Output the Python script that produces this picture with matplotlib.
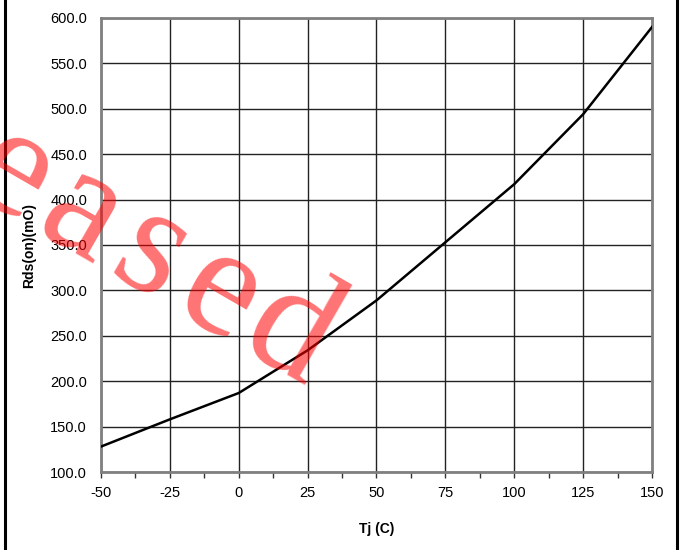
import matplotlib
matplotlib.use("Agg")
import math
import matplotlib.pyplot as plt
from matplotlib.ticker import MultipleLocator, FormatStrFormatter
from matplotlib.lines import Line2D

# Data
tj = [-50, -25, 0, 25, 50, 75, 100, 125, 150]
rds_on = [128, 158, 187, 234, 289, 353, 417, 494, 590]

x_label = "Tj (C)"
y_label = "Rds(on)(mO)"
watermark = "eased"

plt.rcParams['font.family'] = ['Liberation Sans', 'DejaVu Sans']
plt.rcParams['axes.unicode_minus'] = False

W, H = 681, 550
fig = plt.figure(figsize=(W/100, H/100), dpi=100)
ax = fig.add_axes([101/W, 1-472/H, (652-101)/W, (472-18)/H])

ax.plot(tj, rds_on, color='black', lw=1.8, zorder=4, solid_joinstyle='miter')

ax.set_xlim(-50, 150)
ax.set_ylim(100, 600)
ax.xaxis.set_major_locator(MultipleLocator(25))
ax.xaxis.set_minor_locator(MultipleLocator(12.5))
ax.yaxis.set_major_locator(MultipleLocator(50))
ax.yaxis.set_major_formatter(FormatStrFormatter('%.1f'))

ax.grid(True, which='major', color='#222222', lw=1.0, zorder=1)
ax.set_axisbelow(True)
for s in ax.spines.values():
    s.set_color('#808080')
    s.set_linewidth(2)

ax.tick_params(axis='x', which='both', direction='out', length=4, width=1,
               color='#333333', labelsize=10.5, pad=6)
ax.tick_params(axis='y', which='both', length=0, labelsize=10.5, pad=10)

ax.set_xlabel(x_label, fontsize=10, fontweight='bold', labelpad=16)
ax.set_ylabel(y_label, fontsize=10, fontweight='bold', labelpad=10)

# Watermark: letters laid along a tilted line (pixel layout, y from top)
ang = 30.0
step = 80.0
mid = (150.0, 257.0)   # centre of the middle letter
dx, dy = math.cos(math.radians(ang)), math.sin(math.radians(ang))
fs = 114
xh = 0.23 * fs * 100 / 72  # half x-height in px
ux, uy = math.sin(math.radians(ang)), -math.cos(math.radians(ang))  # "up" direction (screen)
n = len(watermark)
for i, ch in enumerate(watermark):
    k = i - (n - 1) / 2
    cx, cy = mid[0] + k * step * dx, mid[1] + k * step * dy
    bx, by = cx - xh * ux, cy - xh * uy
    fig.text(bx / W, 1 - by / H, ch, fontsize=fs, family='Liberation Serif',
             color='#ff0000', alpha=0.55, rotation=-ang, ha='center', va='baseline',
             rotation_mode='anchor', zorder=3)

# Figure side borders
fig.add_artist(Line2D([5/W, 5/W], [0, 1], color='black', lw=2.2, transform=fig.transFigure))
fig.add_artist(Line2D([677/W, 677/W], [0, 1], color='black', lw=2.2, transform=fig.transFigure))

fig.savefig('out.png', dpi=100)
